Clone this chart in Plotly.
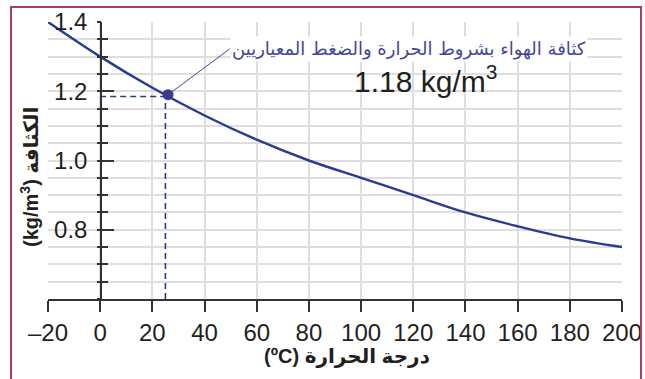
import plotly.graph_objects as go

# Data
temps = [-20, 0, 20, 40, 60, 80, 100, 120, 140, 160, 180, 200]
density = [1.40, 1.30, 1.21, 1.13, 1.06, 1.00, 0.95, 0.90, 0.85, 0.81, 0.775, 0.75]

stp_temp = [25]
stp_density = [1.185]
stp_point_x = [26]
stp_point_y = [1.19]

x_tickvals = [-20, 0, 20, 40, 60, 80, 100, 120, 140, 160, 180, 200]
x_ticktext = ["–20", "0", "20", "40", "60", "80", "100", "120", "140", "160", "180", "200"]
y_tickvals = [0.8, 1.0, 1.2, 1.4]
y_ticktext = ["0.8", "1.0", "1.2", "1.4"]

x_title = "(ºC) درجة الحرارة"
y_title = "(kg/m<sup>3</sup>) الكثافة"
note_ar = "كثافة الهواء بشروط الحرارة والضغط المعياريين"
note_val = "1.18 kg/m<sup>3</sup>"

BLUE = "#283c90"
DOT = "#3a3c88"
AXIS = "#333333"
GRID = "#dedede"
FONT = "Liberation Sans, Arial, DejaVu Sans, sans-serif"

fig = go.Figure()

# dashed guide lines
fig.add_trace(go.Scatter(x=[0, stp_temp[0]], y=[stp_density[0], stp_density[0]], mode="lines",
                         line=dict(color=BLUE, width=1.6, dash="6px,4px"), hoverinfo="skip"))
fig.add_trace(go.Scatter(x=[stp_temp[0], stp_temp[0]], y=[0.6, stp_density[0]], mode="lines",
                         line=dict(color=BLUE, width=1.6, dash="6px,4px"), hoverinfo="skip"))
# curve
fig.add_trace(go.Scatter(x=temps, y=density, mode="lines", line=dict(color=BLUE, width=2.4, shape="spline")))
# point
fig.add_trace(go.Scatter(x=stp_point_x, y=stp_point_y, mode="markers",
                         marker=dict(color=DOT, size=11)))
# stub axis trace
fig.add_trace(go.Scatter(x=[None], y=[None], yaxis="y2", mode="lines", hoverinfo="skip"))

fig.update_layout(
    width=645, height=379,
    margin=dict(l=48, r=23, t=22, b=80, autoexpand=False),
    paper_bgcolor="white", plot_bgcolor="white",
    showlegend=False,
    font=dict(family=FONT, color="#231f20"),
    xaxis=dict(range=[-20, 200], tickmode="array", tickvals=x_tickvals, ticktext=x_ticktext,
               automargin=False,
               showgrid=True, gridcolor=GRID, gridwidth=1.5,
               showline=True, linecolor=AXIS, linewidth=1.5,
               ticks="outside", ticklen=11, tickwidth=1.5, tickcolor=AXIS,
               tickfont=dict(size=24, color="#231f20"), zeroline=False, domain=[0, 1]),
    yaxis=dict(range=[0.6, 1.4], tickmode="array", tickvals=y_tickvals, ticktext=y_ticktext,
               automargin=False,
               anchor="free", position=(101 - 48) / 574,
               showgrid=True, gridcolor=GRID, gridwidth=1.5,
               showline=True, linecolor=AXIS, linewidth=1.5,
               ticks="inside", ticklen=12, tickwidth=1.5, tickcolor=AXIS,
               ticklabelstandoff=8,
               tickfont=dict(size=24, color="#231f20"), zeroline=False,
               minor=dict(tickmode="linear", tick0=0.6, dtick=0.05, ticks="inside", ticklen=6,
                          tickwidth=1.5, tickcolor=AXIS, showgrid=True, gridcolor=GRID, gridwidth=1.5)),
    yaxis2=dict(range=[0.6, 1.4], overlaying="y", anchor="free", position=(101 - 48) / 574,
                automargin=False,
                tickmode="array", tickvals=y_tickvals, showticklabels=False,
                ticks="outside", ticklen=4, tickwidth=1.5, tickcolor=AXIS, showgrid=False,
                showline=False, zeroline=False,
                minor=dict(tickmode="linear", tick0=0.6, dtick=0.05, ticks="outside", ticklen=4,
                           tickwidth=1.5, tickcolor=AXIS)),
)

# frame
fig.add_shape(type="rect", xref="paper", yref="paper",
              x0=(11 - 48) / 574, x1=(641 - 48) / 574, y0=-0.4, y1=1 + (22 - 7) / 277,
              line=dict(color="#a6405e", width=2), layer="above")

# axis titles
fig.add_annotation(text=x_title, xref="paper", yref="paper", x=(347 - 48) / 574, y=(299 - 356) / 277,
                   showarrow=False, xanchor="center", yanchor="middle",
                   font=dict(size=20, color="#231f20", family="Liberation Sans, DejaVu Sans", weight="bold"))
fig.add_annotation(text=y_title, xref="paper", yref="paper", x=(29 - 48) / 574, y=(299 - 177) / 277,
                   showarrow=False, xanchor="center", yanchor="middle", textangle=-90,
                   font=dict(size=20, color="#231f20", family="Liberation Sans, DejaVu Sans", weight="bold"))

# note with leader line
fig.add_annotation(text=note_ar, x=stp_point_x[0], y=stp_point_y[0], xref="x", yref="y",
                   showarrow=True, arrowhead=0, arrowwidth=1, arrowcolor="#45469a",
                   ax=62, ay=-46, xanchor="left", yanchor="middle",
                   bgcolor="white", borderpad=1,
                   font=dict(size=18, color="#45469a", family="DejaVu Sans"))
fig.add_annotation(text=note_val, x=124.6, y=1.235, xref="x", yref="y", showarrow=False,
                   xanchor="center", yanchor="middle",
                   font=dict(size=30, color="#231f20", family=FONT))

fig.write_html("out.html", config={"displayModeBar": False},
               post_script="document.body.style.margin='0';document.body.style.overflow='hidden';")
